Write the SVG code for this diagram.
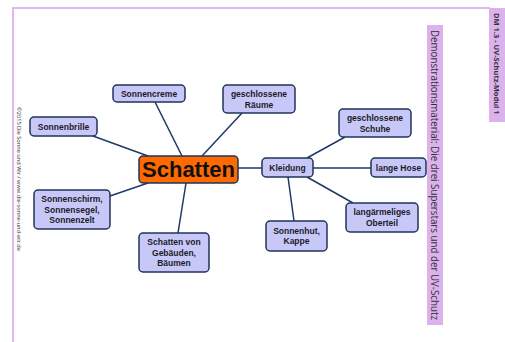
<svg xmlns="http://www.w3.org/2000/svg" width="505" height="342" viewBox="0 0 505 342">
<style>
.n rect{fill:#c8c8f8;stroke:#1f3458;stroke-width:1.5}
.n text{font-family:"Liberation Sans",Arial,sans-serif;font-weight:bold;font-size:8.5px;fill:#1b1b2a;text-anchor:middle}
.c line{stroke:#1f3a66;stroke-width:1.5}
.side{font-family:"Open Sans","Noto Sans",sans-serif;fill:#333}
</style>
<rect width="505" height="342" fill="#fff"/>
<path d="M13,342 V8 H490" fill="none" stroke="#e2b6f0" stroke-width="2"/>
<rect x="489" y="8" width="16" height="114" fill="#dcb2ec"/>
<text class="side" transform="translate(494,13) rotate(90)" font-size="7.5" font-weight="bold">DM 1.3 - UV-Schutz-Modul 1</text>
<rect x="427" y="25" width="16" height="300" fill="#dcb2ec"/>
<text class="side" transform="translate(431,30) rotate(90)" font-size="10.5" textLength="290" lengthAdjust="spacingAndGlyphs">Demonstrationsmaterial: Die drei Superstars und der UV-Schutz</text>
<text class="side" transform="translate(17,107) rotate(90)" font-size="5" textLength="144" lengthAdjust="spacingAndGlyphs">©2015 Die Sonne und Wir / www.die-sonne-und-wir.de</text>
<g class="c">
<line x1="155" y1="102" x2="182" y2="156"/>
<line x1="242" y1="113" x2="202" y2="156"/>
<line x1="93" y1="136" x2="148" y2="156"/>
<line x1="110" y1="196" x2="148" y2="183"/>
<line x1="186" y1="183" x2="178" y2="233"/>
<line x1="238" y1="168" x2="262" y2="168"/>
<line x1="307" y1="158" x2="345" y2="137"/>
<line x1="313" y1="168" x2="371" y2="168"/>
<line x1="307" y1="177" x2="353" y2="203"/>
<line x1="288" y1="177" x2="294" y2="221"/>
</g>
<g id="schatten" class="n"><rect x="139" y="156" width="99" height="27" rx="4" style="fill:#ff6a00"/><text x="188.5" y="177" style="font-size:22px;fill:#111">Schatten</text></g>
<g id="sonnencreme" class="n"><rect x="113" y="85" width="72" height="17" rx="4"/><text x="149" y="96.5">Sonnencreme</text></g>
<g id="raeume" class="n"><rect x="223" y="85" width="72" height="28" rx="4"/><text x="259" y="97">geschlossene</text><text x="259" y="107.5">Räume</text></g>
<g id="sonnenbrille" class="n"><rect x="30" y="117" width="67" height="19" rx="4"/><text x="63.5" y="129.5">Sonnenbrille</text></g>
<g id="sonnenschirm" class="n"><rect x="34" y="190" width="76" height="39" rx="4"/><text x="72" y="202">Sonnenschirm,</text><text x="72" y="212.5">Sonnensegel,</text><text x="72" y="223">Sonnenzelt</text></g>
<g id="gebaeude" class="n"><rect x="139" y="233" width="70" height="39" rx="4"/><text x="174" y="245">Schatten von</text><text x="174" y="255.5">Gebäuden,</text><text x="174" y="266">Bäumen</text></g>
<g id="kleidung" class="n"><rect x="262" y="158" width="51" height="19" rx="4"/><text x="287.5" y="170.5">Kleidung</text></g>
<g id="schuhe" class="n"><rect x="339" y="109" width="72" height="28" rx="4"/><text x="375" y="121">geschlossene</text><text x="375" y="131.5">Schuhe</text></g>
<g id="hose" class="n"><rect x="371" y="158" width="55" height="19" rx="4"/><text x="398.5" y="170.5">lange Hose</text></g>
<g id="oberteil" class="n"><rect x="346" y="203" width="72" height="29" rx="4"/><text x="382" y="215">langärmeliges</text><text x="382" y="225.5">Oberteil</text></g>
<g id="sonnenhut" class="n"><rect x="266" y="221" width="61" height="30" rx="4"/><text x="296.5" y="233.5">Sonnenhut,</text><text x="296.5" y="244">Kappe</text></g>
</svg>
